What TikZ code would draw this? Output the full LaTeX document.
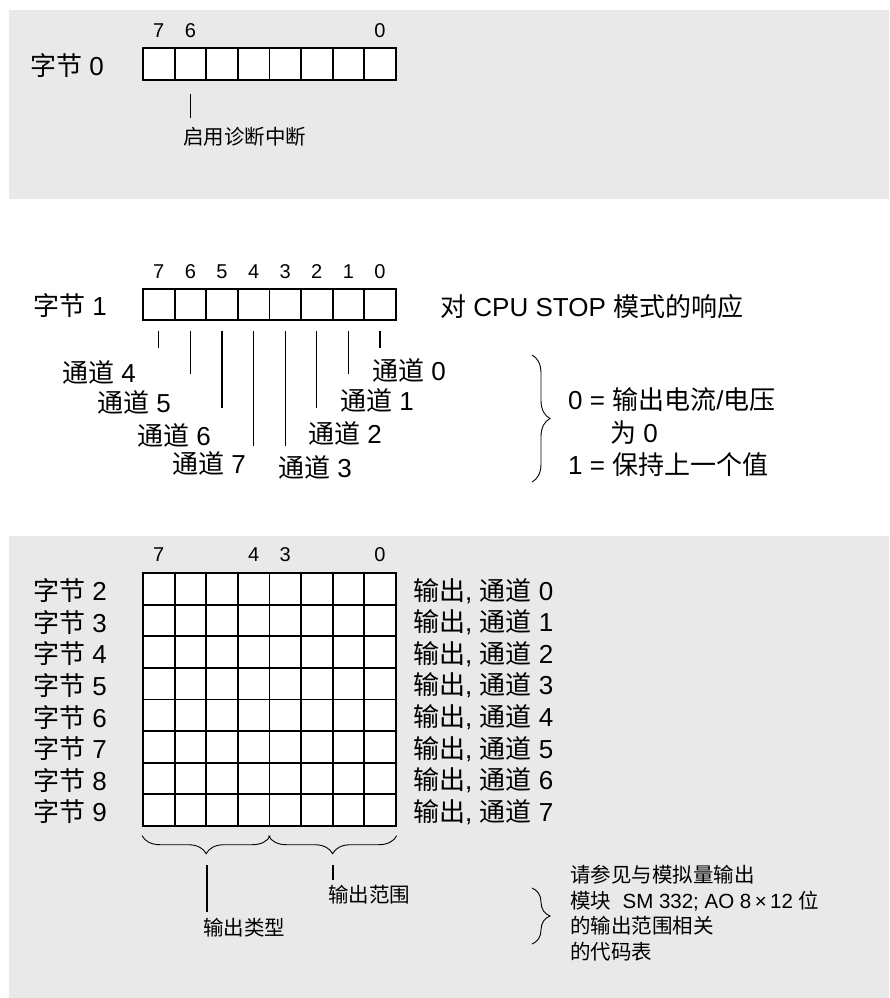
\documentclass[tikz,border=0pt]{standalone}
\usepackage{fontspec}
\setmainfont{Liberation Sans}
\newfontfamily\cjk{Noto Sans CJK SC}
\newcommand{\zh}[1]{{\cjk #1}}
\usetikzlibrary{decorations.pathreplacing}
\definecolor{panelgray}{RGB}{233,233,233}
\tikzset{%
  cell/.style={draw, line width=1.8pt, fill=white, minimum size=31.6pt, inner sep=0pt},
  big/.style={font=\fontsize{26}{30}\selectfont, inner sep=0pt},
  small/.style={font=\fontsize{20.5}{25.5}\selectfont, inner sep=0pt},
  bitno/.style={font=\fontsize{20}{22}\selectfont, inner sep=0pt},
  lead/.style={line width=1.3pt},
  brc/.style={decorate, decoration={brace, amplitude=18pt}, line width=0.9pt},
}

\begin{document}
\begin{tikzpicture}[x=1pt, y=-1pt]
    \useasboundingbox (0,0) rectangle (889,998);

    %gray panels
    \fill[panelgray] (9,10) rectangle (889,199);
    \fill[panelgray] (9,536) rectangle (889,998);

    % byte 0
    \node[big, anchor=west] (byte0) at (30,66) {\zh{字节} 0};
    \foreach \i in {0,...,7}
        \node[cell] (a\i) at ({158.8+31.6*(7-\i)},64) {};
    \node[bitno] (na7) at (158.8,31) {7};
    \node[bitno] (na6) at (190.4,31) {6};
    \node[bitno] (na0) at (380.0,31) {0};
    \draw[lead] ([yshift=-13pt]a6.south) -- ++(0,24) coordinate (diagend);
    \node[small, anchor=west] (diag) at (183,137) {\zh{启用诊断中断}};

    % byte 1
    \node[big, anchor=west] (byte1) at (33,306) {\zh{字节} 1};
    \foreach \i in {0,...,7} {
        \node[cell] (b\i) at ({158.8+31.6*(7-\i)},304.5) {};
        \node[bitno] (nb\i) at ({158.8+31.6*(7-\i)},272) {\i};
    }
    \foreach \i/\len in {7/17, 6/43, 5/77, 4/115, 3/115, 2/77, 1/43, 0/17}
        \draw[lead] ([yshift=-9.5pt]b\i.south) -- ++(0,\len);
    \node[big, anchor=west] (ch4) at (62,372) {\zh{通道} 4};
    \node[big, anchor=west] (ch5) at (97,402) {\zh{通道} 5};
    \node[big, anchor=west] (ch6) at (137,435) {\zh{通道} 6};
    \node[big, anchor=west] (ch7) at (172,463) {\zh{通道} 7};
    \node[big, anchor=west] (ch3) at (278,467) {\zh{通道} 3};
    \node[big, anchor=west] (ch2) at (308,433) {\zh{通道} 2};
    \node[big, anchor=west] (ch1) at (340,400) {\zh{通道} 1};
    \node[big, anchor=west] (ch0) at (372,370) {\zh{通道} 0};
    \node[big, anchor=west] (stop) at (440,307) {\zh{对} CPU STOP \zh{模式的响应}};

    \coordinate (stopbtop) at (532,355);
    \coordinate (stopbbot) at (532,482);
    \draw[brc] (stopbtop) -- (stopbbot);
    \node[big, anchor=west] (resp0) at (568,400) {0 = \zh{输出电流}/\zh{电压}};
    \node[big, anchor=west] (resp0b) at (610,433) {\zh{为} 0};
    \node[big, anchor=west] (resp1) at (568,465) {1 = \zh{保持上一个值}};

    % bytes 2 to 9
    \node[bitno] (ng7) at (158.8,555) {7};
    \node[bitno] (ng4) at (253.6,555) {4};
    \node[bitno] (ng3) at (285.2,555) {3};
    \node[bitno] (ng0) at (380.0,555) {0};
    \foreach \r/\j in {2/0, 3/1, 4/2, 5/3, 6/4, 7/5, 8/6, 9/7} {
        \foreach \i in {0,...,7}
            \node[cell] (g\r-\i) at ({158.8+31.6*(7-\i)},{588.8+31.6*\j}) {};
        \node[big, anchor=west] (byte\r) at (33,{590.8+31.6*\j}) {\zh{字节} \r};
        \node[big, anchor=west] (out\j) at (413,{590.8+31.6*\j}) {\zh{输出}, \zh{通道} \j};
    }

    \draw[brc, decoration={mirror}] ([yshift=-9pt]g9-7.south west) -- ([yshift=-9pt]g9-4.south east);
    \draw[brc, decoration={mirror}] ([yshift=-9pt]g9-3.south west) -- ([yshift=-9pt]g9-0.south east);

    \coordinate (typtop) at (207,865);
    \coordinate (typbot) at (207,912);
    \coordinate (rngtop) at (333,865);
    \coordinate (rngbot) at (333,880);
    \draw[lead] (typtop) -- (typbot);
    \draw[lead] (rngtop) -- (rngbot);
    \node[small, anchor=west] (otype) at (203,928) {\zh{输出类型}};
    \node[small, anchor=west] (orange) at (328,895) {\zh{输出范围}};

    \coordinate (notebtop) at (532,888);
    \coordinate (notebbot) at (532,944);
    \draw[brc] (notebtop) -- (notebbot);
    \node[small, anchor=west, align=left] (note) at (570,913)
        {\zh{请参见与模拟量输出}\\
         \zh{模块}~ SM 332; AO 8\,×\,12 \zh{位}\\
         \zh{的输出范围相关}\\
         \zh{的代码表}};
\end{tikzpicture}
\end{document}
